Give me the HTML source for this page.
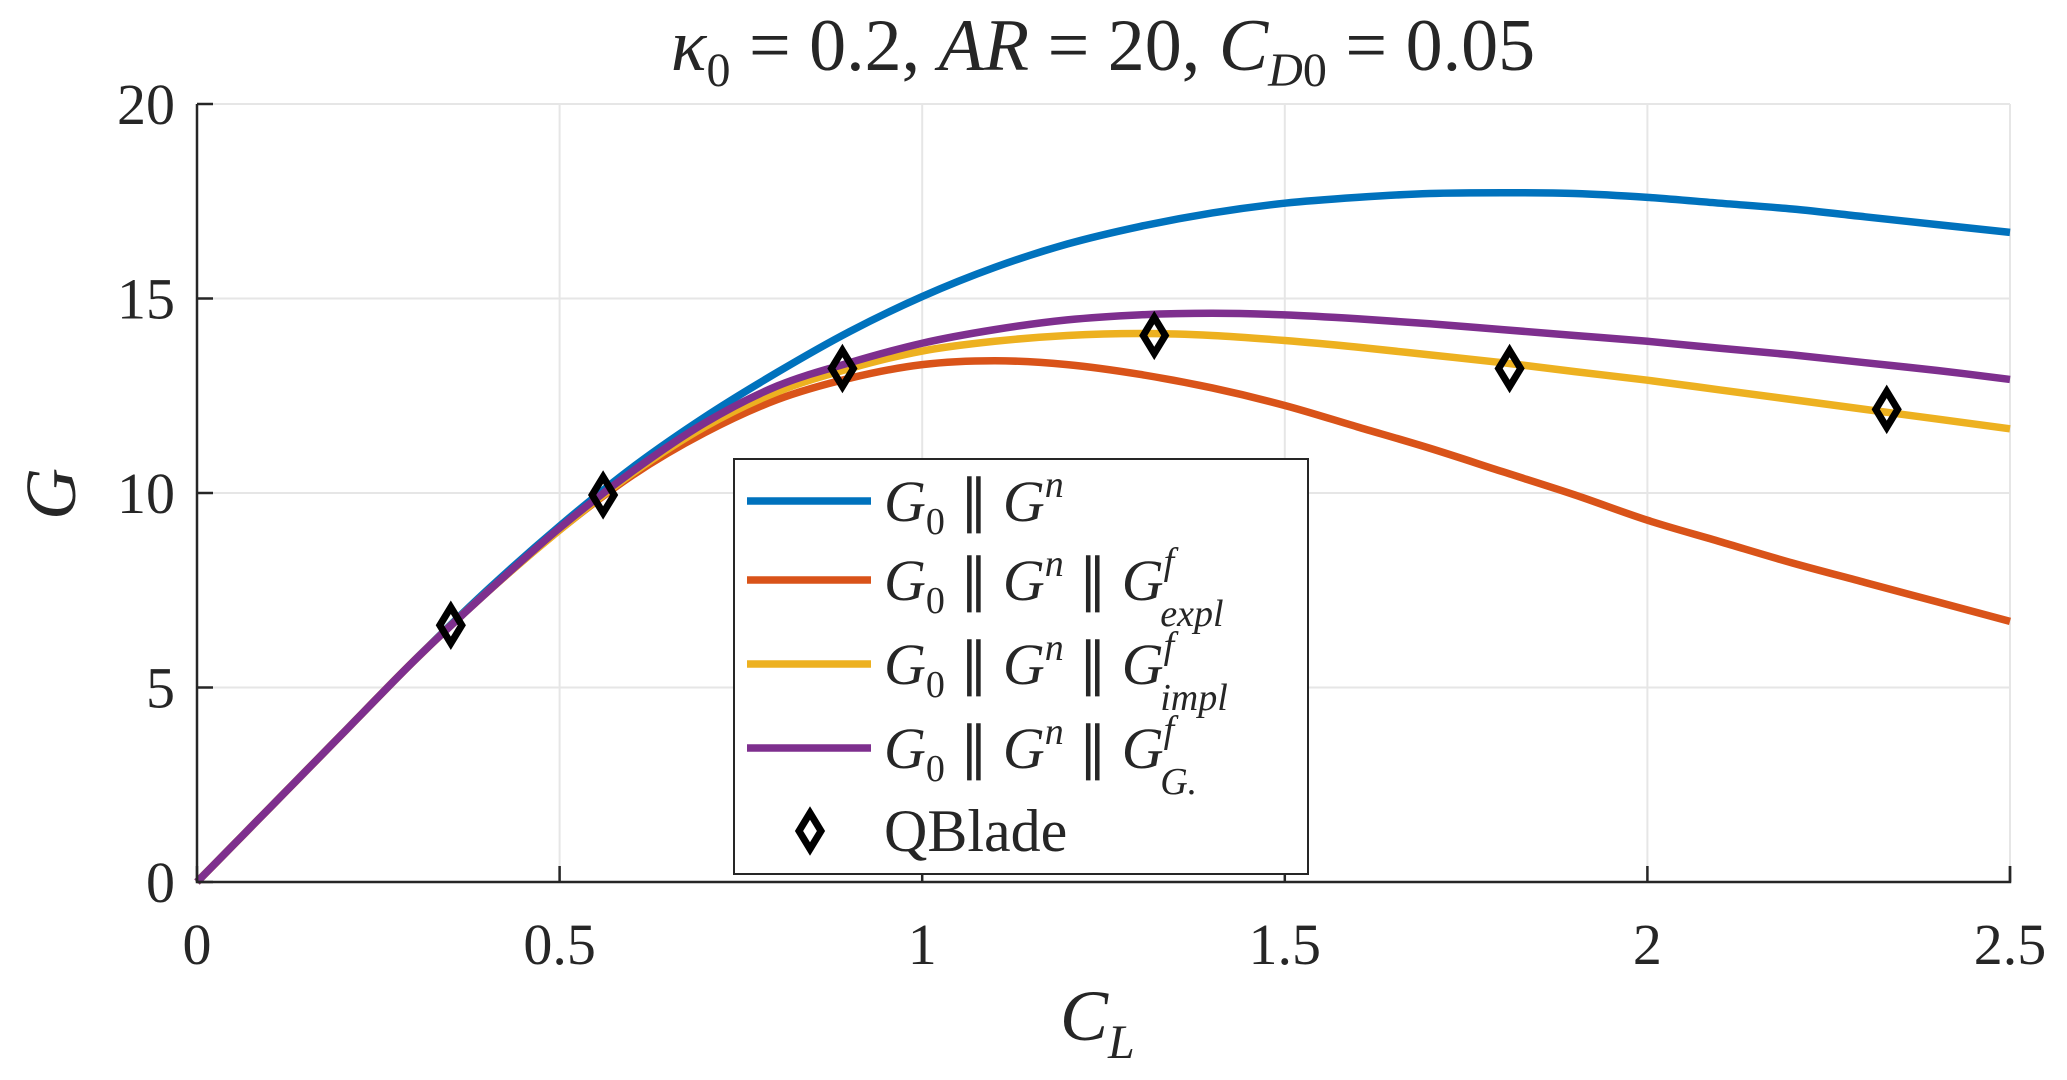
<!DOCTYPE html>
<html><head><meta charset="utf-8"><style>
html,body{margin:0;padding:0;background:#fff;}
svg text{font-family:"Liberation Serif",serif;fill:#262626;}
</style></head><body>
<svg id="chart" width="2067" height="1075" viewBox="0 0 2067 1075" xmlns="http://www.w3.org/2000/svg">
<g id="grid"></g>
<g id="curves"></g>
<g id="axes"></g>
<text x="1103" y="70" text-anchor="middle" font-size="74"><tspan font-style="italic">κ</tspan><tspan font-size="48" dy="16">0</tspan><tspan dy="-16"> = 0.2, </tspan><tspan font-style="italic">AR</tspan><tspan> = 20, </tspan><tspan font-style="italic">C</tspan><tspan font-size="48" dy="16" font-style="italic">D</tspan><tspan font-size="48">0</tspan><tspan dy="-16"> = 0.05</tspan></text>
<text x="1060" y="1040" font-size="72" font-style="italic">C<tspan font-size="48" dy="18">L</tspan></text>
<text transform="translate(75,494) rotate(-90)" text-anchor="middle" font-size="72" font-style="italic">G</text>
<g id="legend">
<rect x="734" y="459" width="574" height="415" fill="#fff" stroke="#262626" stroke-width="2"/>
</g>
</svg>
<script>
const xTicks=[0,0.5,1,1.5,2,2.5];
const xTickLabels=["0","0.5","1","1.5","2","2.5"];
const yTicks=[0,5,10,15,20];
const yTickLabels=["0","5","10","15","20"];
const cl=[0,0.1,0.2,0.3,0.4,0.5,0.6,0.7,0.8,0.9,1.0,1.1,1.2,1.3,1.4,1.5,1.6,1.7,1.8,1.9,2.0,2.1,2.2,2.3,2.4,2.5];
const gBase=[0,1.9,3.8,5.7,7.5,9.15,10.65,11.95,13.1,14.15,15.05,15.8,16.4,16.85,17.2,17.45,17.6,17.7,17.72,17.7,17.6,17.45,17.3,17.1,16.9,16.7];
const gExpl=[0,1.9,3.8,5.7,7.45,9.05,10.45,11.55,12.4,12.95,13.3,13.4,13.3,13.05,12.7,12.25,11.7,11.15,10.55,9.95,9.3,8.75,8.2,7.7,7.2,6.7];
const gImpl=[0,1.9,3.8,5.7,7.45,9.05,10.5,11.7,12.6,13.2,13.65,13.9,14.05,14.1,14.05,13.92,13.75,13.55,13.35,13.12,12.9,12.65,12.4,12.15,11.9,11.65];
const gG=[0,1.9,3.8,5.7,7.45,9.1,10.55,11.8,12.75,13.35,13.85,14.2,14.45,14.58,14.62,14.58,14.48,14.35,14.2,14.05,13.9,13.72,13.55,13.35,13.15,12.92];
const qCl=[0.35,0.56,0.89,1.32,1.81,2.33];
const qG=[6.6,9.95,13.2,14.05,13.2,12.15];
const NS="http://www.w3.org/2000/svg";
const X0=197,X1=2010,Y0=882,Y1=104;
const sx=v=>X0+(v-0)/2.5*(X1-X0);
const sy=v=>Y0-(v/20)*(Y0-Y1);
function el(t,a,p){const e=document.createElementNS(NS,t);for(const k in a)e.setAttribute(k,a[k]);p.appendChild(e);return e;}
const grid=document.getElementById('grid'),axes=document.getElementById('axes'),curves=document.getElementById('curves'),legend=document.getElementById('legend');
xTicks.forEach((t,i)=>{
  if(t>0){const g=el('line',{x1:sx(t),x2:sx(t),y1:Y1,y2:Y0,stroke:'#e6e6e6','stroke-width':2},grid);
  
  }
  const tk=el('line',{x1:sx(t),x2:sx(t),y1:Y0,y2:Y0-16,stroke:'#262626','stroke-width':2.5},axes);
  
  
  const lb=el('text',{x:sx(t),y:Y0+82,'text-anchor':'middle','font-size':58},axes);
  lb.textContent=xTickLabels[i];
  
  
});
yTicks.forEach((t,i)=>{
  if(t>0){const g=el('line',{x1:X0,x2:X1,y1:sy(t),y2:sy(t),stroke:'#e6e6e6','stroke-width':2},grid);
  
  }
  const tk=el('line',{x1:X0,x2:X0+16,y1:sy(t),y2:sy(t),stroke:'#262626','stroke-width':2.5},axes);
  
  
  const lb=el('text',{x:X0-22,y:sy(t)+20,'text-anchor':'end','font-size':58},axes);
  lb.textContent=yTickLabels[i];
  
  
});
const ax=el('path',{d:`M${X0},${Y1} L${X0},${Y0} L${X1},${Y0} L${X1},${Y0-16}`,fill:'none',stroke:'#262626','stroke-width':2.5},axes);


function smooth(xs,ys){const p=xs.map((x,i)=>[sx(x),sy(ys[i])]);let d=`M${p[0][0]},${p[0][1]}`;
  for(let i=0;i<p.length-1;i++){const a=p[i-1]||p[i],b=p[i],c=p[i+1],e=p[i+2]||c;
    d+=` C${b[0]+(c[0]-a[0])/6},${b[1]+(c[1]-a[1])/6} ${c[0]-(e[0]-b[0])/6},${c[1]-(e[1]-b[1])/6} ${c[0]},${c[1]}`;}
  return d;}
const series=[[gBase,'#0072BD','series-g0-gn'],[gExpl,'#D95319','series-expl'],[gImpl,'#EDB120','series-impl'],[gG,'#7E2F8E','series-g']];
series.forEach(s=>{const p=el('path',{d:smooth(cl,s[0]),fill:'none',stroke:s[1],'stroke-width':7.5,'stroke-linejoin':'round'},curves);
  
  });
function diamond(cx,cy,g){const d=el('path',{d:`M${cx},${cy-18} L${cx+11},${cy} L${cx},${cy+18} L${cx-11},${cy} Z`,fill:'none',stroke:'#000','stroke-width':7},g);return d;}
qCl.forEach((c,i)=>{const d=diamond(sx(c),sy(qG[i]),curves);
  
  });
const rows=[501,580,664,748,831];
const labels=[[''],['expl'],['impl'],['G.']];
series.forEach((s,i)=>{const y=rows[i];
  const l=el('line',{x1:747,x2:871,y1:y,y2:y,stroke:s[1],'stroke-width':7.5},legend);
  
  
  const t=el('text',{x:884,y:y+20,'font-size':58,'font-style':'italic'},legend);
  
  
  let h='G<tspan font-size="38" dy="13" font-style="normal">0</tspan><tspan dy="-13" font-style="normal"> ∥ </tspan>G<tspan font-size="38" dy="-24">n</tspan>';
  if(i>0){h+=`<tspan dy="24" font-style="normal"> ∥ </tspan>G<tspan font-size="38" dy="-26">f</tspan><tspan font-size="38" dx="-14" dy="52">${labels[i][0]}</tspan>`;}
  t.innerHTML=h;
});
const qd=diamond(810,831,legend);


const qt=el('text',{x:884,y:851,'font-size':60},legend);
qt.textContent='QBlade';


</script>
</body></html>
